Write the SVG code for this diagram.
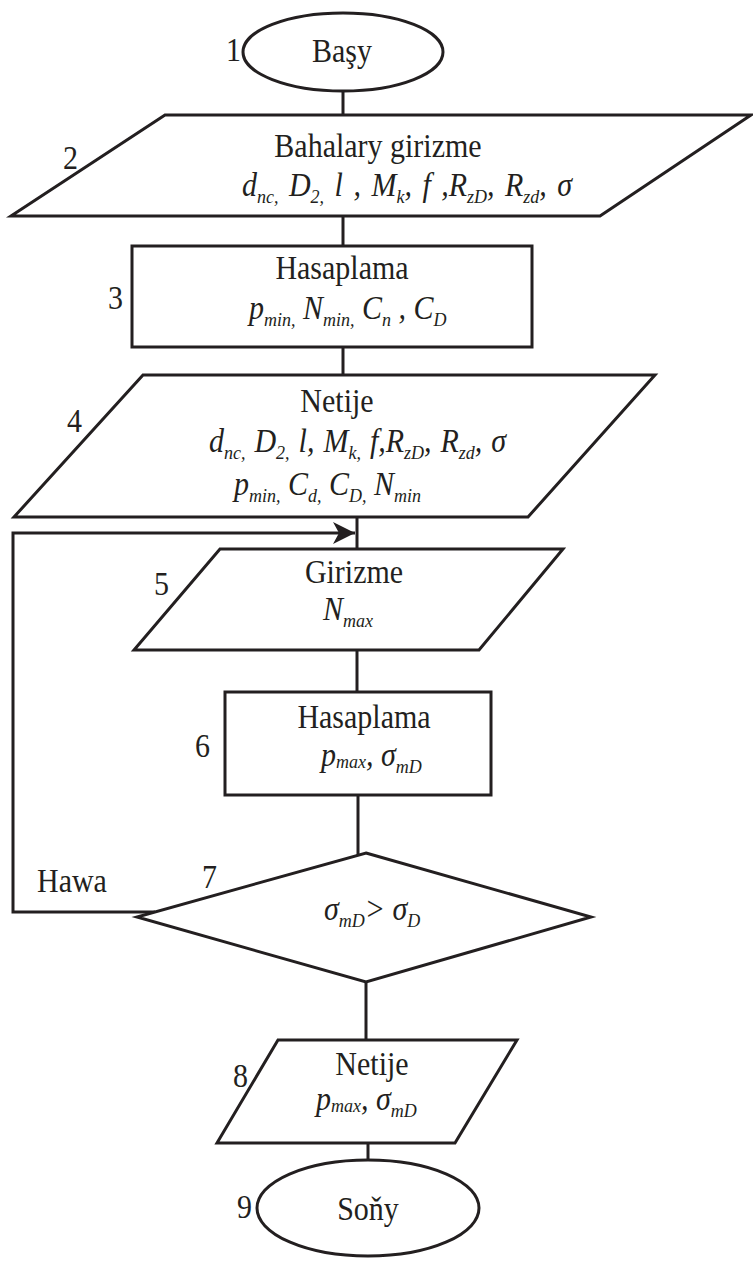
<svg xmlns="http://www.w3.org/2000/svg" width="753" height="1261" viewBox="0 0 753 1261">
<style>
.shape{fill:#fff;stroke:#231f20;stroke-width:3;stroke-linejoin:miter}
.conn{fill:none;stroke:#231f20;stroke-width:3}
.t{font-family:'Liberation Serif','Times New Roman',serif;font-size:30px;fill:#231f20}
.c{text-anchor:middle}
.f{font-style:italic}
.s{font-size:18px}
</style>
<defs>
<marker id="arr" markerUnits="userSpaceOnUse" markerWidth="24" markerHeight="22" refX="22" refY="11" orient="auto">
<path d="M0,0 L22,11 L0,22 L6,11 Z" fill="#231f20"/>
</marker>
</defs>
<g id="connectors">
<line class="conn" x1="343" y1="91" x2="343" y2="115"/>
<line class="conn" x1="343" y1="216" x2="343" y2="246"/>
<line class="conn" x1="343" y1="347" x2="343" y2="375"/>
<line class="conn" x1="357" y1="517" x2="357" y2="549"/>
<line class="conn" x1="357" y1="650" x2="357" y2="692"/>
<line class="conn" x1="358" y1="795" x2="358" y2="857"/>
<line class="conn" x1="366" y1="982" x2="366" y2="1040"/>
<line class="conn" x1="368" y1="1143" x2="368" y2="1160"/>
<path class="conn" d="M155,912 H13 V533 H355" marker-end="url(#arr)"/>
</g>
<g id="n1">
<ellipse class="shape" cx="343" cy="52" rx="100" ry="39"/>
<text class="t c" x="342" y="62" transform="matrix(1 0 0 1.1 0 -6.2)">Başy</text>
<text class="t" x="226" y="61" transform="matrix(1 0 0 1.1 0 -6.1)">1</text>
</g>
<g id="n2">
<polygon class="shape" points="165,115 751,115 600,216 11,216"/>
<text class="t c" x="378" y="157" transform="matrix(1 0 0 1.1 0 -15.7)">Bahalary girizme</text>
<text class="t f" x="242" y="196" word-spacing="3" transform="matrix(1 0 0 1.1 0 -19.6)">d<tspan class="s" dy="6">nc,</tspan><tspan dy="-6"> D</tspan><tspan class="s" dy="6">2,</tspan><tspan dy="-6"> l , M</tspan><tspan class="s" dy="6">k</tspan><tspan dy="-6">, f ,R</tspan><tspan class="s" dy="6">zD</tspan><tspan dy="-6">, R</tspan><tspan class="s" dy="6">zd</tspan><tspan dy="-6">, σ</tspan></text>
<text class="t" x="63" y="169" transform="matrix(1 0 0 1.1 0 -16.9)">2</text>
</g>
<g id="n3">
<rect class="shape" x="132" y="246" width="400" height="101"/>
<text class="t c" x="342" y="279" transform="matrix(1 0 0 1.1 0 -27.9)">Hasaplama</text>
<text class="t f" x="249" y="319" transform="matrix(1 0 0 1.1 0 -31.9)">p<tspan class="s" dy="6">min,</tspan><tspan dy="-6"> N</tspan><tspan class="s" dy="6">min,</tspan><tspan dy="-6"> C</tspan><tspan class="s" dy="6">n</tspan><tspan dy="-6"> , C</tspan><tspan class="s" dy="6">D</tspan></text>
<text class="t" x="108" y="309" transform="matrix(1 0 0 1.1 0 -30.9)">3</text>
</g>
<g id="n4">
<polygon class="shape" points="143,375 655,375 528,517 14,517"/>
<text class="t c" x="337" y="412" transform="matrix(1 0 0 1.1 0 -41.2)">Netije</text>
<text class="t f" x="209" y="452" word-spacing="1.5" transform="matrix(1 0 0 1.1 0 -45.2)">d<tspan class="s" dy="6">nc,</tspan><tspan dy="-6"> D</tspan><tspan class="s" dy="6">2,</tspan><tspan dy="-6"> l, M</tspan><tspan class="s" dy="6">k,</tspan><tspan dy="-6"> f,R</tspan><tspan class="s" dy="6">zD</tspan><tspan dy="-6">, R</tspan><tspan class="s" dy="6">zd</tspan><tspan dy="-6">, σ</tspan></text>
<text class="t f" x="234" y="495" transform="matrix(1 0 0 1.1 0 -49.5)">p<tspan class="s" dy="6">min,</tspan><tspan dy="-6"> C</tspan><tspan class="s" dy="6">d,</tspan><tspan dy="-6"> C</tspan><tspan class="s" dy="6">D,</tspan><tspan dy="-6"> N</tspan><tspan class="s" dy="6">min</tspan></text>
<text class="t" x="67" y="432" transform="matrix(1 0 0 1.1 0 -43.2)">4</text>
</g>
<g id="n5">
<polygon class="shape" points="220,549 563,549 479,650 134,650"/>
<text class="t c" x="354" y="583" transform="matrix(1 0 0 1.1 0 -58.3)">Girizme</text>
<text class="t f" x="323" y="620" transform="matrix(1 0 0 1.1 0 -62)">N<tspan class="s" dy="6">max</tspan></text>
<text class="t" x="154" y="595" transform="matrix(1 0 0 1.1 0 -59.5)">5</text>
</g>
<g id="n6">
<rect class="shape" x="225" y="692" width="266" height="103"/>
<text class="t c" x="364" y="728" transform="matrix(1 0 0 1.1 0 -72.8)">Hasaplama</text>
<text class="t f" x="321" y="766" transform="matrix(1 0 0 1.1 0 -76.6)">p<tspan class="s" dy="2">max</tspan><tspan dy="-2">, σ</tspan><tspan class="s" dy="6">mD</tspan></text>
<text class="t" x="195" y="757" transform="matrix(1 0 0 1.1 0 -75.7)">6</text>
</g>
<g id="n7">
<polygon class="shape" points="366,853 591,917 366,982 137,917"/>
<text class="t f" x="324" y="920" transform="matrix(1 0 0 1.1 0 -92)">σ<tspan class="s" dy="6">mD</tspan><tspan dy="-6">&gt; σ</tspan><tspan class="s" dy="6">D</tspan></text>
<text class="t" x="202" y="888" transform="matrix(1 0 0 1.1 0 -88.8)">7</text>
<text class="t" x="37" y="892" transform="matrix(1 0 0 1.1 0 -89.2)">Hawa</text>
</g>
<g id="n8">
<polygon class="shape" points="278,1040 517,1040 455,1143 217,1143"/>
<text class="t c" x="372" y="1075" transform="matrix(1 0 0 1.1 0 -107.5)">Netije</text>
<text class="t f" x="316" y="1110" transform="matrix(1 0 0 1.1 0 -111)">p<tspan class="s" dy="2">max</tspan><tspan dy="-2">, σ</tspan><tspan class="s" dy="6">mD</tspan></text>
<text class="t" x="233" y="1087" transform="matrix(1 0 0 1.1 0 -108.7)">8</text>
</g>
<g id="n9">
<ellipse class="shape" cx="368" cy="1208" rx="111" ry="48"/>
<text class="t c" x="368" y="1220" transform="matrix(1 0 0 1.1 0 -122)">Soňy</text>
<text class="t" x="237" y="1218" transform="matrix(1 0 0 1.1 0 -121.8)">9</text>
</g>
</svg>
